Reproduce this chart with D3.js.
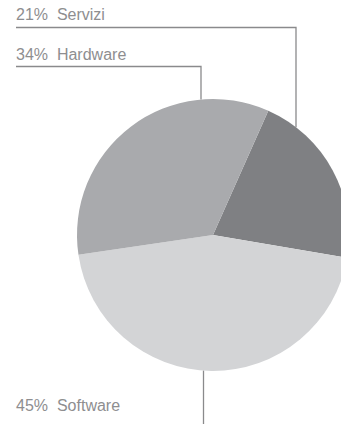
<!DOCTYPE html>
<html>
<head>
<meta charset="utf-8">
<script src="https://cdn.jsdelivr.net/npm/d3@7"></script>
<style>
  body { margin: 0; background: #fff; }
  svg { display: block; }
  .label { font-family: "Liberation Sans", Arial, sans-serif; font-size: 16px; fill: #8e8e90; }
</style>
</head>
<body>
<svg width="341" height="424"></svg>
<script>
const categories = ["Servizi", "Software", "Hardware"];
const shares = [21, 45, 34];
const colors = ["#7f8083", "#d3d4d6", "#a9aaad"];

const svg = d3.select("svg");
const cx = 213, cy = 235, radius = 136;

const pie = d3.pie()
  .sort(null)
  .value(d => d.value)
  .startAngle(24 * Math.PI / 180)
  .endAngle(24 * Math.PI / 180 + 2 * Math.PI);

const arc = d3.arc().innerRadius(0).outerRadius(radius);

const data = categories.map((c, i) => ({ name: c, value: shares[i], color: colors[i] }));

svg.append("g")
  .attr("transform", `translate(${cx},${cy})`)
  .selectAll("path")
  .data(pie(data)).enter()
  .append("path")
  .attr("d", arc)
  .attr("fill", d => d.data.color);

// leader lines: anchor x on the arc, label row y
const leaders = [
  { name: "Servizi", x: 296, labelY: 20, lineY: 27.5, top: true },
  { name: "Hardware", x: 201, labelY: 60, lineY: 66.5, top: true },
  { name: "Software", x: 203.5, labelY: 411, top: false }
];

const lines = svg.append("g")
  .attr("fill", "none")
  .attr("stroke", "#8a8a8c")
  .attr("stroke-width", 1.3);

leaders.forEach(l => {
  const i = categories.indexOf(l.name);
  const dx = l.x - cx;
  const dy = Math.sqrt(radius * radius - dx * dx);
  if (l.top) {
    lines.append("path")
      .attr("d", `M16,${l.lineY}H${l.x}V${cy - dy}`);
  } else {
    lines.append("path")
      .attr("d", `M${l.x},${cy + dy}V424`);
  }
  svg.append("text")
    .attr("class", "label")
    .attr("x", 16)
    .attr("y", l.labelY)
    .attr("xml:space", "preserve")
    .style("white-space", "pre")
    .text(shares[i] + "%  " + l.name);
});
</script>
</body>
</html>
